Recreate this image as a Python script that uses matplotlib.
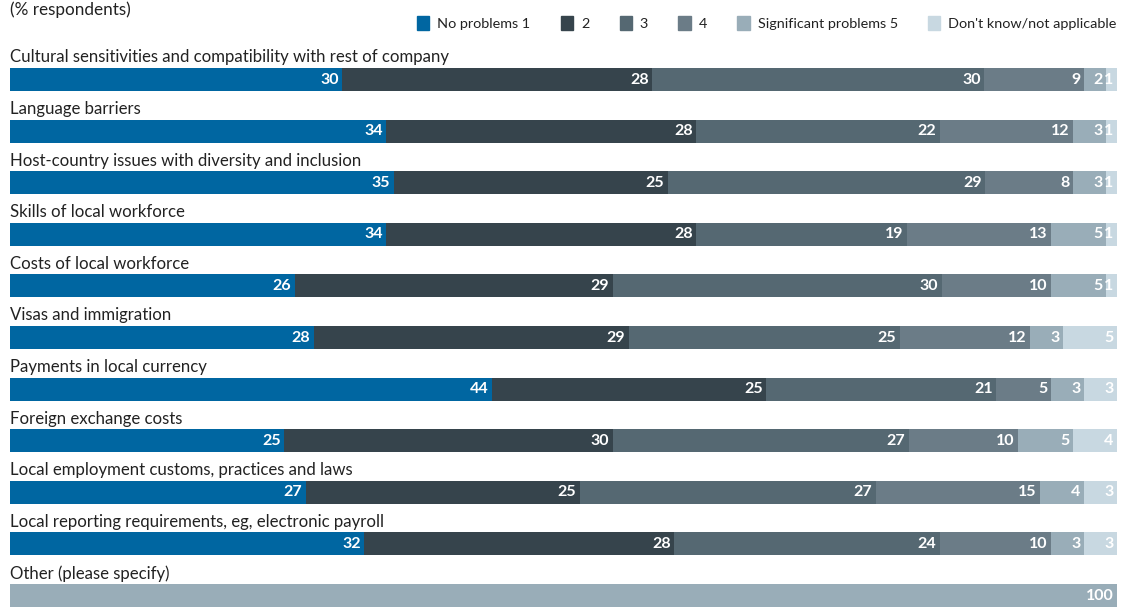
import numpy as np
import matplotlib
matplotlib.use("Agg")
import matplotlib.pyplot as plt
from matplotlib.patches import Patch

plt.rcParams["font.family"] = ["Lato", "DejaVu Sans"]

CATEGORIES = [
    "Cultural sensitivities and compatibility with rest of company",
    "Language barriers",
    "Host-country issues with diversity and inclusion",
    "Skills of local workforce",
    "Costs of local workforce",
    "Visas and immigration",
    "Payments in local currency",
    "Foreign exchange costs",
    "Local employment customs, practices and laws",
    "Local reporting requirements, eg, electronic payroll",
    "Other (please specify)",
]
SERIES = ["No problems 1", "2", "3", "4", "Significant problems 5",
          "Don't know/not applicable"]
COLORS = ["#0066a1", "#36444c", "#556872", "#6b7c87", "#99adb8", "#c8d8e1"]

no_problems = [30, 34, 35, 34, 26, 28, 44, 25, 27, 32, 0]
two = [28, 28, 25, 28, 29, 29, 25, 30, 25, 28, 0]
three = [30, 22, 29, 19, 30, 25, 21, 27, 27, 24, 0]
four = [9, 12, 8, 13, 10, 12, 5, 10, 15, 10, 0]
significant = [2, 3, 3, 5, 5, 3, 3, 5, 4, 3, 100]
dont_know = [1, 1, 1, 1, 1, 5, 3, 4, 3, 3, 0]

vals = np.array([no_problems, two, three, four, significant, dont_know],
                dtype=float)
# bars are drawn on a 100% scale, labels keep the published values
norm = vals / vals.sum(axis=0) * 100

W, H = 1133, 613
fig = plt.figure(figsize=(W / 100, H / 100), dpi=100)
ax = fig.add_axes([10 / W, 0, 1107 / W, 1])
ax.set_axis_off()

row_px = 51.6
y0_px = 79.5
ax.set_xlim(0, 100)
ax.set_ylim((H - y0_px) / row_px, -y0_px / row_px)

ys = np.arange(len(CATEGORIES))
left = np.zeros(len(CATEGORIES))
for k in range(len(SERIES)):
    ax.barh(ys, norm[k], left=left, height=0.445, color=COLORS[k],
            linewidth=0)
    for i in ys:
        if vals[k, i] > 0:
            ax.annotate(f"{vals[k, i]:.0f}", (left[i] + norm[k, i], i),
                        xytext=(-2.5, 0), textcoords="offset points",
                        ha="right", va="center", color="white",
                        fontsize=11.5, fontweight="bold")
    left += norm[k]

for i, cat in enumerate(CATEGORIES):
    ax.text(0, i - 0.43, cat, ha="left", va="center", fontsize=12.1,
            color="#222222")

fig.text(10 / W, 1 - 1 / H, "(% respondents)", ha="left", va="top",
         fontsize=12.3, color="#222222")

handles = [Patch(color=c, label=s) for c, s in zip(COLORS, SERIES)]
fig.legend(handles=handles, loc="upper right", bbox_to_anchor=(0.997, 0.995),
           ncol=6, frameon=False, fontsize=10.4, handlelength=0.85,
           handleheight=1.15, handletextpad=0.55, columnspacing=2.1,
           labelcolor="#222222")

fig.savefig("out.png", dpi=100)
